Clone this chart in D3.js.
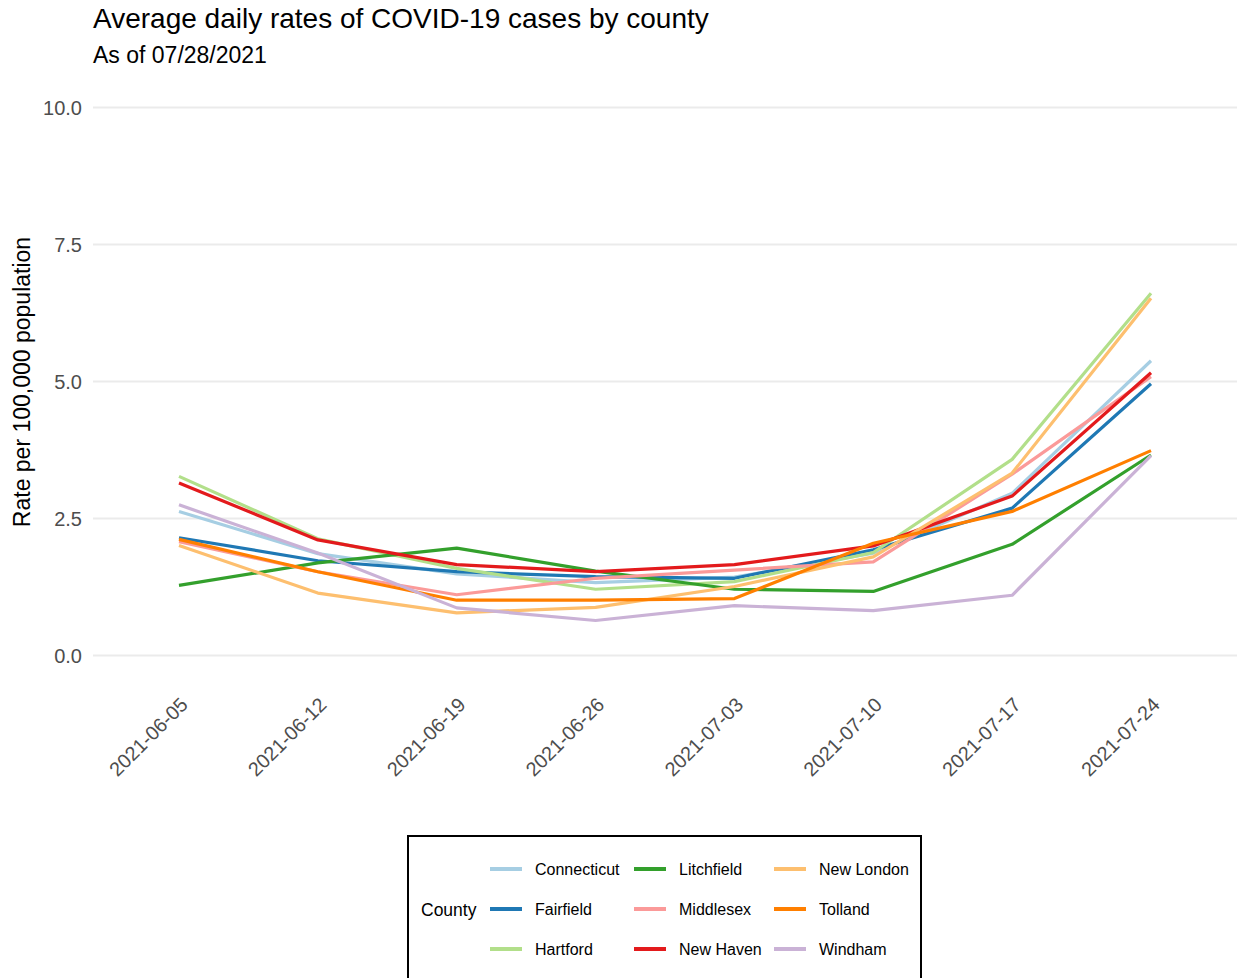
<!DOCTYPE html>
<html>
<head>
<meta charset="utf-8">
<script src="https://cdn.jsdelivr.net/npm/d3@7"></script>
<style>
  body { margin: 0; background: #fff; }
  text { font-family: "Liberation Sans", Arial, sans-serif; }
</style>
</head>
<body>
<script>
// weekly dates on the x axis
var dates = ["2021-06-05","2021-06-12","2021-06-19","2021-06-26","2021-07-03","2021-07-10","2021-07-17","2021-07-24"];

var counties = ["Connecticut","Fairfield","Hartford","Litchfield","Middlesex","New Haven","New London","Tolland","Windham"];

// rate per 100,000
var connecticut = [2.62, 1.85, 1.48, 1.32, 1.42, 1.86, 2.95, 5.37];
var fairfield   = [2.14, 1.72, 1.52, 1.43, 1.40, 1.92, 2.68, 4.95];
var hartford    = [3.26, 2.12, 1.58, 1.20, 1.34, 1.87, 3.57, 6.60];
var litchfield  = [1.27, 1.68, 1.95, 1.53, 1.20, 1.16, 2.02, 3.65];
var middlesex   = [2.07, 1.52, 1.10, 1.40, 1.55, 1.70, 3.30, 5.08];
var newHaven    = [3.14, 2.10, 1.65, 1.52, 1.65, 1.99, 2.90, 5.15];
var newLondon   = [2.00, 1.13, 0.77, 0.87, 1.25, 1.79, 3.32, 6.51];
var tolland     = [2.11, 1.52, 1.00, 1.00, 1.03, 2.04, 2.62, 3.73];
var windham     = [2.74, 1.86, 0.86, 0.63, 0.90, 0.81, 1.09, 3.64];

var yTicks = [0, 2.5, 5, 7.5, 10];

var values = [connecticut, fairfield, hartford, litchfield, middlesex, newHaven, newLondon, tolland, windham];

var series = counties.map(function(c, i){
  return { county: c, values: values[i].map(function(v, j){ return { date: dates[j], rate: v }; }) };
});

var W = 1238, H = 978;
var svg = d3.select("body").append("svg").attr("width", W).attr("height", H);

var xscale = d3.scalePoint().domain(dates).range([179, 1151]);
var yscale = d3.scaleLinear().domain([0, 10]).range([655, 107]);

var color = d3.scaleOrdinal().domain(counties).range(d3.schemePaired);

// horizontal grid + y labels
var yAxis = svg.append("g")
  .attr("transform", "translate(93,0)")
  .call(d3.axisLeft(yscale).tickValues(yTicks).tickSize(-(1237 - 93)).tickPadding(11)
        .tickFormat(d3.format(".1f")));
yAxis.select(".domain").remove();
yAxis.selectAll("line").attr("stroke", "#EBEBEB").attr("stroke-width", 2);
yAxis.selectAll("text").attr("fill", "#4D4D4D").style("font-size", "20px")
  .attr("dy", "0.36em");

// x labels, rotated
svg.selectAll(".xlab").data(dates).enter()
  .append("text")
  .attr("class", "xlab")
  .attr("transform", function(d){ return "translate(" + (xscale(d) + 10) + ",706) rotate(-45)"; })
  .attr("text-anchor", "end")
  .attr("fill", "#4D4D4D")
  .style("font-size", "19.8px")
  .text(function(d){ return d; });

// lines
var line = d3.line()
  .x(function(d){ return xscale(d.date); })
  .y(function(d){ return yscale(d.rate); });

svg.selectAll(".county").data(series).enter()
  .append("path")
  .attr("class", "county")
  .attr("d", function(d){ return line(d.values); })
  .attr("fill", "none")
  .attr("stroke", function(d){ return color(d.county); })
  .attr("stroke-width", 3.2)
  .attr("stroke-linejoin", "round");

// titles
svg.append("text").attr("x", 93).attr("y", 28)
  .style("font-size", "28px").attr("fill", "#000")
  .text("Average daily rates of COVID-19 cases by county");
svg.append("text").attr("x", 93).attr("y", 63)
  .style("font-size", "23px").attr("fill", "#000")
  .text("As of 07/28/2021");

svg.append("text")
  .attr("transform", "translate(30,382) rotate(-90)")
  .attr("text-anchor", "middle")
  .style("font-size", "23px").attr("fill", "#000")
  .text("Rate per 100,000 population");

// legend
var legend = svg.append("g");
legend.append("rect")
  .attr("x", 408).attr("y", 836).attr("width", 513).attr("height", 160)
  .attr("fill", "none").attr("stroke", "#000").attr("stroke-width", 2);
legend.append("text").attr("x", 421).attr("y", 916)
  .style("font-size", "17.5px").attr("fill", "#000").text("County");

var colX = [490, 634, 774];
var rowY = [869, 909, 949];
var items = legend.selectAll(".item").data(counties).enter()
  .append("g").attr("class", "item")
  .attr("transform", function(d, i){
    return "translate(" + colX[Math.floor(i / 3)] + "," + rowY[i % 3] + ")";
  });
items.append("line")
  .attr("x1", 0).attr("x2", 32).attr("y1", 0).attr("y2", 0)
  .attr("stroke", function(d){ return color(d); }).attr("stroke-width", 4);
items.append("text")
  .attr("x", 45).attr("y", 0).attr("dy", "0.35em")
  .style("font-size", "16px").attr("fill", "#000")
  .text(function(d){ return d; });
</script>
</body>
</html>
